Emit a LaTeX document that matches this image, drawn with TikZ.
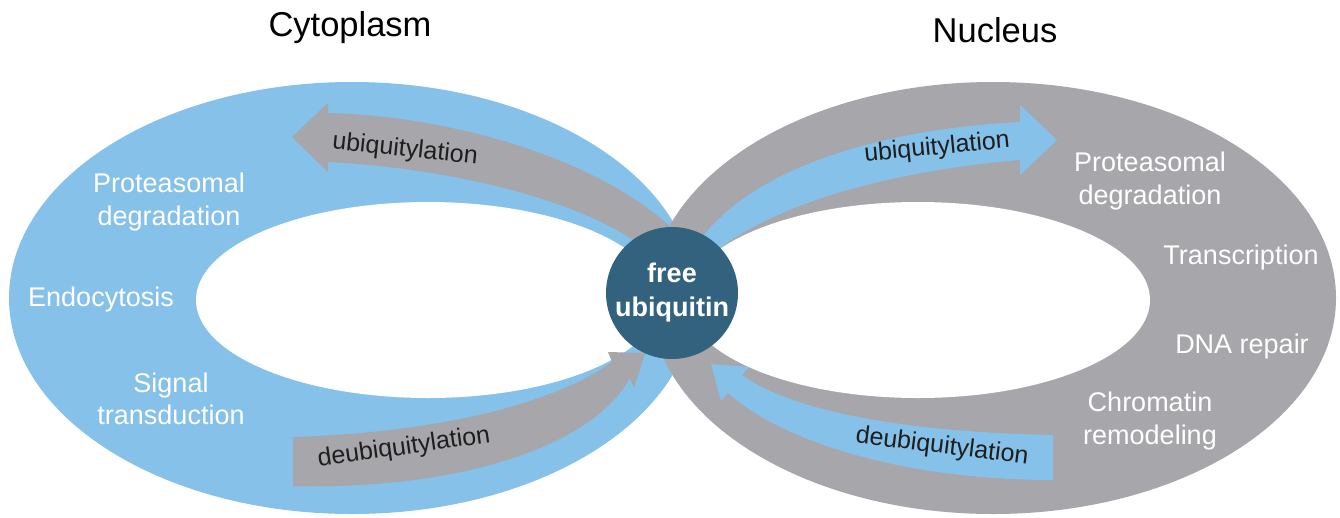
\documentclass[tikz,border=0pt]{standalone}
\usepackage{fontspec}
\setmainfont{Liberation Sans}
\definecolor{cytoblue}{HTML}{85C1E9}
\definecolor{nucgray}{HTML}{A7A6AB}
\definecolor{ubdark}{HTML}{33627F}
\definecolor{lbltext}{HTML}{1E1E1E}
\begin{document}
\begin{tikzpicture}[x=1pt,y=-1pt,
  bandlbl/.style={text=white, font=\fontsize{27}{32.5}\selectfont, align=center, inner sep=0pt},
  arrowlbl/.style={text=lbltext, font=\fontsize{25}{30}\selectfont, inner sep=0pt},
  titlelbl/.style={text=black, font=\fontsize{34.5}{40}\selectfont, inner sep=0pt}]
\fill[white] (0,0) rectangle (1340,517);
\useasboundingbox (0,0) rectangle (1340,517);

% bands
\fill[cytoblue] (352,298) ellipse [x radius=343pt, y radius=216pt];
\fill[nucgray] (993,298) ellipse [x radius=343pt, y radius=216pt];
\fill[white] (428,300) ellipse [x radius=232pt, y radius=98pt];
\fill[white] (918,300) ellipse [x radius=232pt, y radius=98pt];

% cytoplasm ubiquitylation (grey, pointing left)
\fill[nucgray] (292,137) -- (328,103) -- (328,113)
  .. controls (450,116) and (600,158) .. (676,232)
  -- (640,245)
  .. controls (580,200) and (450,168) .. (328,162)
  -- (328,172) -- cycle;
% cytoplasm deubiquitylation (grey, pointing to centre)
\fill[nucgray] (293,437) .. controls (450,432) and (560,400) .. (612,362)
  -- (608,352) -- (645,353) -- (634,388) -- (630,378)
  .. controls (590,450) and (450,490) .. (293,486) -- cycle;
% nucleus ubiquitylation (blue, pointing right)
\fill[cytoblue] (1057,140) -- (1020,105) -- (1020,122)
  .. controls (900,128) and (760,160) .. (700,240)
  -- (715,252)
  .. controls (780,200) and (900,170) .. (1020,160)
  -- (1020,175) -- cycle;
% nucleus deubiquitylation (blue, pointing to centre)
\fill[cytoblue] (1053,435) .. controls (900,432) and (790,410) .. (742,375)
  -- (749,367) -- (711,364) -- (721,401) -- (728,393)
  .. controls (780,440) and (900,480) .. (1053,480) -- cycle;

% centre
\node[circle, fill=ubdark, minimum size=132pt, inner sep=0pt, text=white,
      font=\bfseries\fontsize{27}{34}\selectfont, align=center] (free) at (672,293) {free\\ubiquitin};

% titles
\node[titlelbl] (cyto) at (350,28) {Cytoplasm};
\node[titlelbl] (nuc) at (995,30) {Nucleus};

% cytoplasm labels
\node[bandlbl] (cprot) at (169,202) {Proteasomal\\degradation};
\node[bandlbl] (endo) at (101,300) {Endocytosis};
\node[bandlbl] (sig) at (171,399) {Signal\\transduction};

% nucleus labels
\node[bandlbl] (nprot) at (1150,181) {Proteasomal\\degradation};
\node[bandlbl] (trans) at (1241,258) {Transcription};
\node[bandlbl] (dna) at (1242,347) {DNA repair};
\node[bandlbl] (chrom) at (1150,421) {Chromatin\\remodeling};

% arrow labels
\node[arrowlbl, rotate=-6] (cub) at (405,150) {ubiquitylation};
\node[arrowlbl, rotate=8] (cdub) at (404,448) {deubiquitylation};
\node[arrowlbl, rotate=5.5] (nub) at (937,148) {ubiquitylation};
\node[arrowlbl, rotate=-7] (ndub) at (942,447) {deubiquitylation};
\end{tikzpicture}
\end{document}
